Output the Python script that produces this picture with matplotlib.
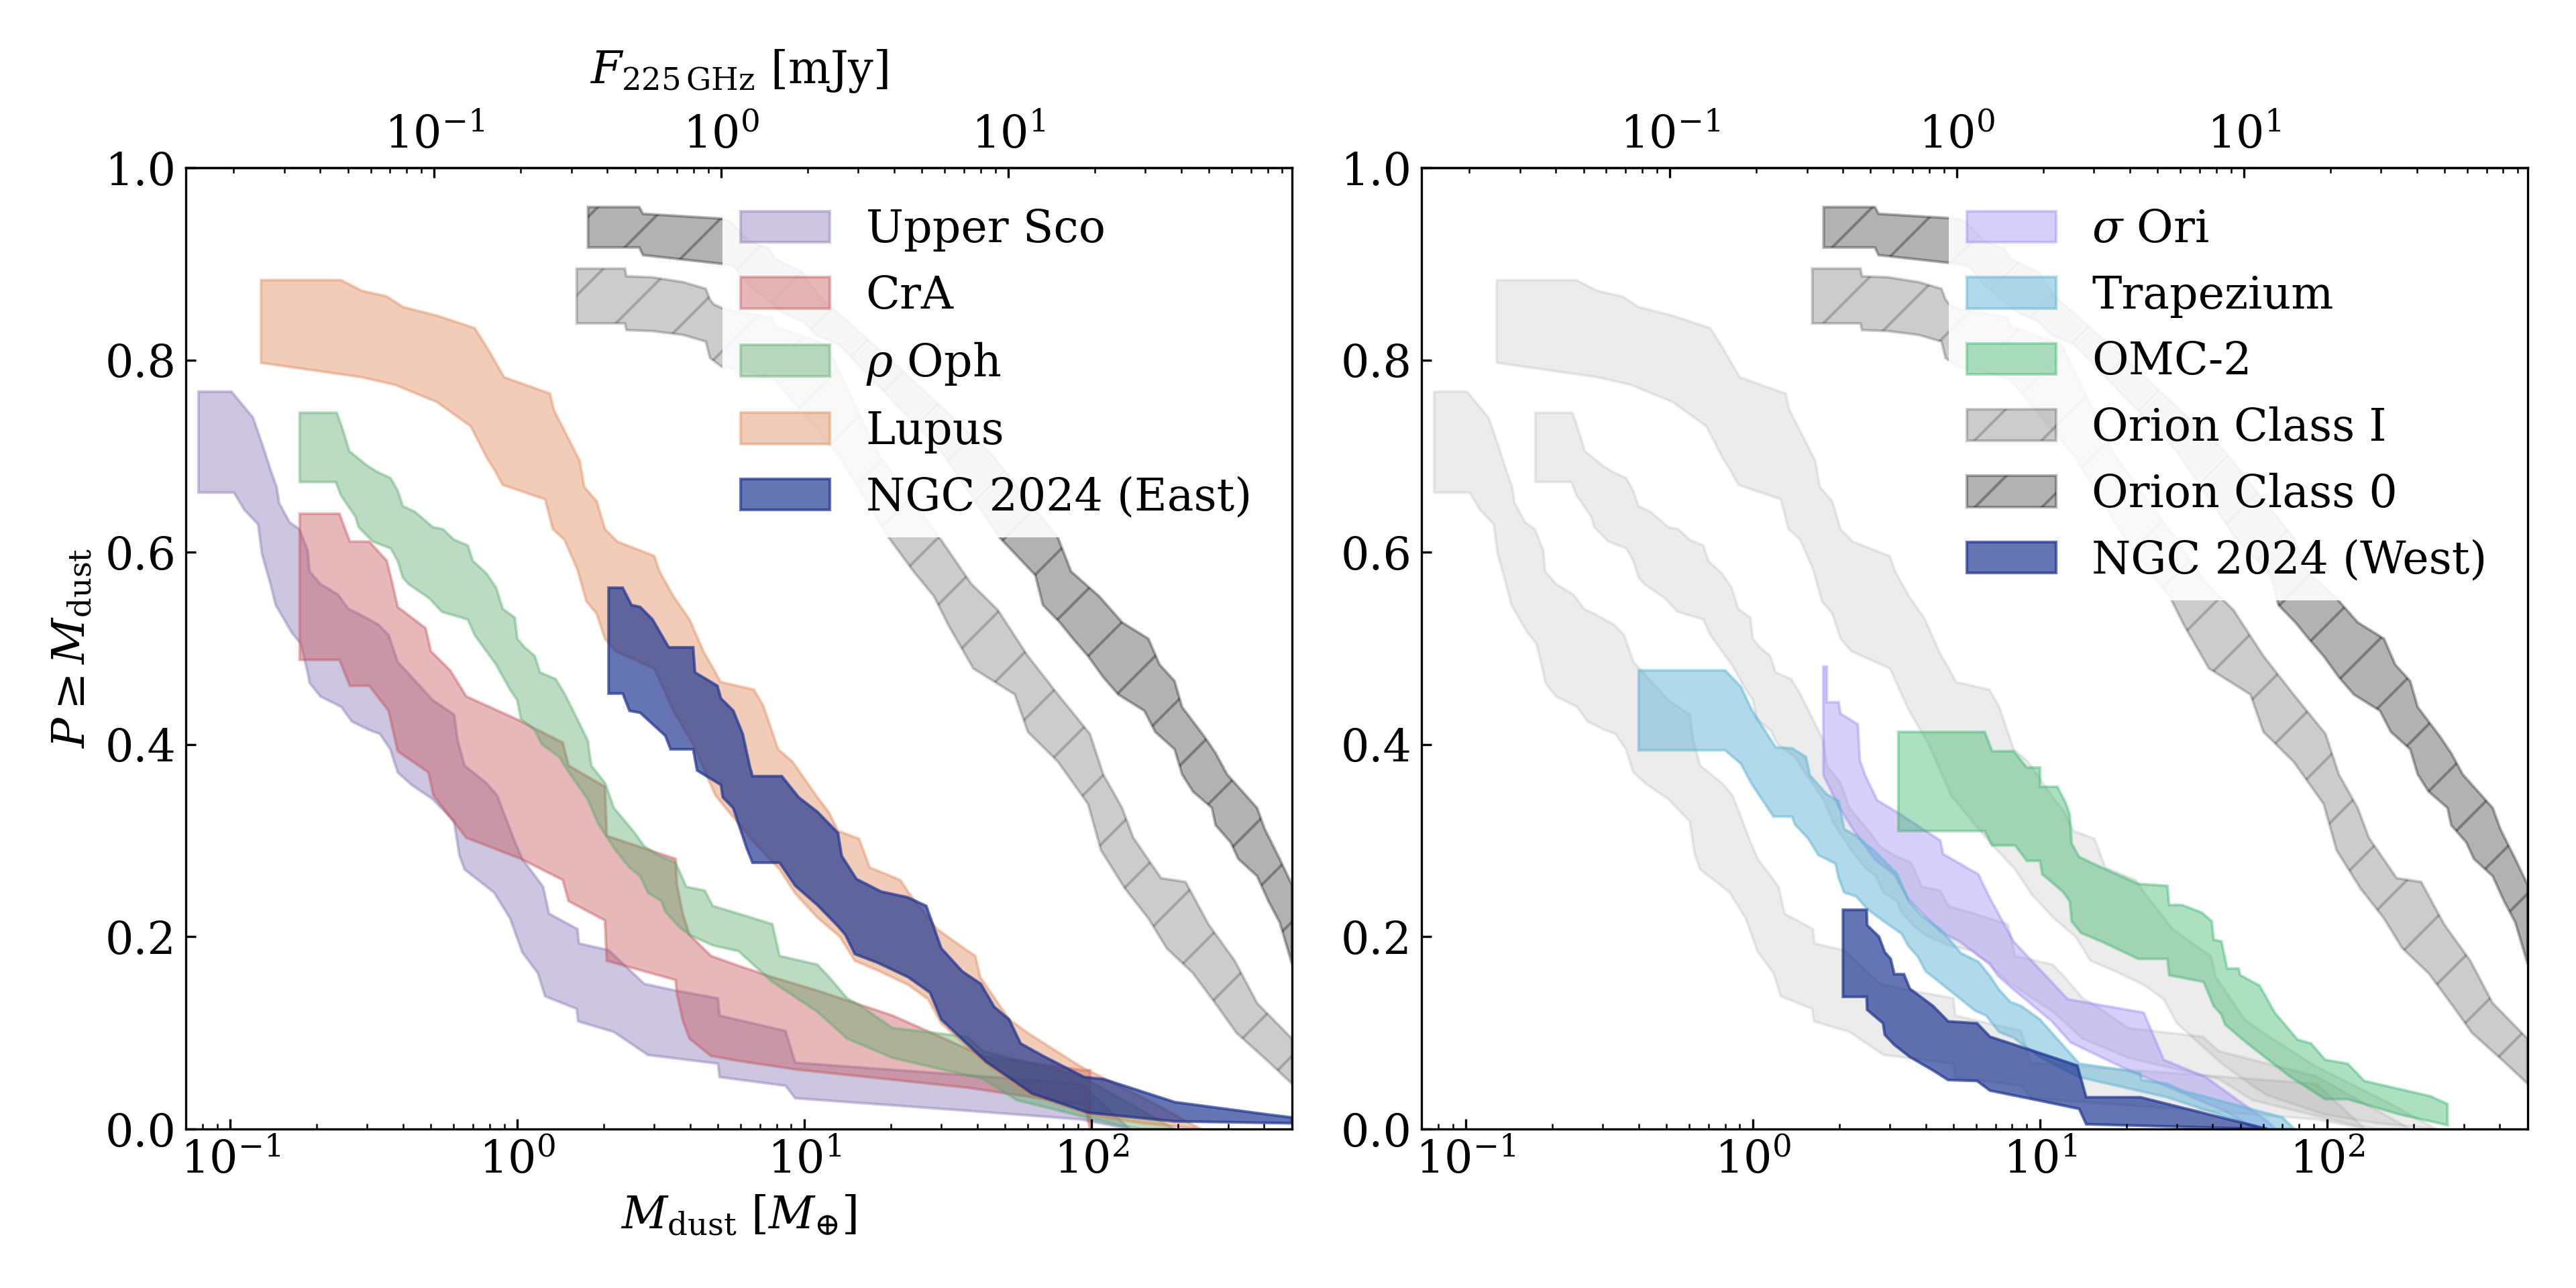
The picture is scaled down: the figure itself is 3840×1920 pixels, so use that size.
import numpy as np
import matplotlib
matplotlib.use('Agg')
import matplotlib.pyplot as plt
from matplotlib.ticker import LogLocator, NullFormatter

plt.rcParams.update({
    'font.family': 'serif',
    'font.serif': ['DejaVu Serif'],
    'mathtext.fontset': 'dejavuserif',
    'font.size': 16,
    'axes.linewidth': 0.8,
})

# ---------------- data (M_dust [M_earth], cumulative probability) ----------------
# Upper Sco
usco_hi_m = [0.0775, 0.101, 0.12, 0.13, 0.138, 0.145, 0.148, 0.161, 0.174, 0.186, 0.189, 0.206, 0.237, 0.258,
             0.280, 0.327, 0.356, 0.383, 0.508, 0.603, 0.62, 0.655, 0.78, 0.85, 0.98, 1.04, 1.23, 1.29, 1.62,
             1.64, 2.08, 2.77, 3.56, 5.0, 5.07, 8.6, 9.3, 37, 92, 136]
usco_hi_p = [0.767, 0.767, 0.74, 0.71, 0.686, 0.668, 0.651, 0.631, 0.624, 0.602, 0.580, 0.567, 0.556, 0.541,
             0.536, 0.525, 0.514, 0.486, 0.446, 0.431, 0.404, 0.378, 0.360, 0.347, 0.299, 0.281, 0.252, 0.224,
             0.208, 0.193, 0.186, 0.151, 0.144, 0.136, 0.118, 0.102, 0.069, 0.056, 0.047, 0.0]
usco_lo_m = [0.0775, 0.103, 0.112, 0.125, 0.129, 0.138, 0.144, 0.164, 0.176, 0.186, 0.189, 0.206, 0.244, 0.265,
             0.305, 0.332, 0.361, 0.383, 0.428, 0.508, 0.602, 0.628, 0.655, 0.83, 0.944, 1.04, 1.18, 1.25, 1.61,
             1.63, 2.17, 2.85, 5.0, 5.07, 8.6, 9.3, 37, 92, 136]
usco_lo_p = [0.662, 0.662, 0.644, 0.629, 0.598, 0.567, 0.545, 0.516, 0.505, 0.475, 0.464, 0.450, 0.439, 0.424,
             0.415, 0.411, 0.395, 0.371, 0.358, 0.343, 0.320, 0.285, 0.270, 0.246, 0.219, 0.184, 0.162, 0.138,
             0.125, 0.112, 0.101, 0.077, 0.068, 0.054, 0.045, 0.032, 0.019, 0.010, 0.0]

# CrA
cra_hi_m = [0.1745, 0.24, 0.261, 0.305, 0.351, 0.366, 0.383, 0.479, 0.50, 0.584, 0.664, 1.0, 1.18, 1.44, 1.51,
            2.02, 2.05, 3.56, 3.6, 3.77, 3.98, 4.73, 5.87, 7.74, 11.1, 20.3, 42, 94.5, 99]
cra_hi_p = [0.640, 0.640, 0.611, 0.611, 0.591, 0.569, 0.543, 0.521, 0.497, 0.477, 0.450, 0.426, 0.415, 0.402,
            0.378, 0.356, 0.305, 0.281, 0.254, 0.224, 0.202, 0.180, 0.170, 0.158, 0.144, 0.118, 0.076, 0.061, 0.061]
cra_lo_m = [0.1745, 0.24, 0.261, 0.305, 0.356, 0.383, 0.49, 0.51, 0.664, 1.03, 1.44, 1.51, 2.02, 2.05, 3.56, 3.6,
            3.77, 3.98, 4.73, 5.87, 9.3, 37, 94.5, 99]
cra_lo_p = [0.488, 0.488, 0.461, 0.461, 0.435, 0.393, 0.371, 0.347, 0.303, 0.281, 0.259, 0.237, 0.217, 0.175,
            0.155, 0.140, 0.113, 0.094, 0.076, 0.071, 0.062, 0.043, 0.025, 0.0]

# rho Oph
roph_hi_m = [0.1745, 0.235, 0.245, 0.26, 0.30, 0.323, 0.362, 0.383, 0.399, 0.44, 0.508, 0.55, 0.602, 0.672, 0.70,
             0.78, 0.844, 0.89, 0.98, 1.0, 1.06, 1.15, 1.2, 1.36, 1.46, 1.62, 1.76, 1.81, 2.02, 2.17, 2.58, 2.77,
             3.09, 3.56, 3.88, 4.5, 4.8, 5.9, 7.74, 8.2, 11.1, 12.2, 14.1, 15.9, 20.3, 37, 42, 91.6, 195]
roph_hi_p = [0.745, 0.745, 0.73, 0.705, 0.69, 0.684, 0.677, 0.664, 0.648, 0.642, 0.626, 0.624, 0.613, 0.607, 0.591,
             0.578, 0.563, 0.541, 0.532, 0.510, 0.501, 0.492, 0.475, 0.468, 0.453, 0.426, 0.404, 0.378, 0.360, 0.334,
             0.307, 0.294, 0.285, 0.277, 0.252, 0.248, 0.232, 0.224, 0.213, 0.180, 0.171, 0.158, 0.136, 0.127, 0.105,
             0.096, 0.081, 0.055, 0.0]
roph_lo_m = [0.1745, 0.233, 0.243, 0.273, 0.28, 0.314, 0.362, 0.383, 0.399, 0.417, 0.494, 0.546, 0.672, 0.71,
             0.763, 0.844, 0.944, 1.0, 1.03, 1.15, 1.22, 1.40, 1.53, 1.76, 1.91, 2.2, 2.46, 2.68, 2.85, 3.18, 3.28,
             3.67, 3.98, 4.8, 5.9, 7.74, 11.1, 14.1, 20.3, 42, 55, 124, 150]
roph_lo_p = [0.673, 0.673, 0.659, 0.637, 0.626, 0.611, 0.604, 0.591, 0.574, 0.567, 0.552, 0.538, 0.530, 0.514,
             0.501, 0.483, 0.457, 0.446, 0.426, 0.415, 0.400, 0.387, 0.369, 0.343, 0.318, 0.290, 0.272, 0.263, 0.246,
             0.237, 0.226, 0.210, 0.202, 0.191, 0.185, 0.153, 0.122, 0.094, 0.074, 0.052, 0.030, 0.004, 0.0]

# Lupus
lup_hi_m = [0.128, 0.243, 0.287, 0.351, 0.40, 0.526, 0.711, 0.787, 0.90, 1.30, 1.34, 1.65, 1.71, 1.89, 2.02, 2.23,
            3.0, 3.13, 3.5, 3.98, 4.48, 4.8, 5.1, 6.67, 7.2, 8.1, 9.1, 11.1, 12.2, 13.1, 15.5, 16.9, 21.6, 23.2, 29,
            36, 39.4, 41, 51.7, 60, 91.6, 167, 240]
lup_hi_p = [0.883, 0.883, 0.872, 0.866, 0.855, 0.846, 0.833, 0.812, 0.782, 0.765, 0.748, 0.695, 0.668, 0.653,
            0.624, 0.611, 0.596, 0.580, 0.554, 0.530, 0.495, 0.480, 0.465, 0.457, 0.440, 0.395, 0.382, 0.345, 0.329,
            0.310, 0.302, 0.272, 0.259, 0.245, 0.208, 0.188, 0.180, 0.158, 0.114, 0.100, 0.065, 0.026, 0.0]
lup_lo_m = [0.128, 0.287, 0.376, 0.526, 0.688, 0.787, 0.832, 0.89, 1.25, 1.33, 1.46, 1.62, 1.74, 1.89, 2.02, 2.2,
            3.0, 3.5, 4.1, 4.9, 6.6, 8.2, 9.3, 11.1, 13.3, 15, 18, 23, 27, 30, 43, 55, 62, 98, 150, 240]
lup_lo_p = [0.797, 0.782, 0.774, 0.756, 0.731, 0.697, 0.686, 0.670, 0.655, 0.624, 0.613, 0.582, 0.549, 0.536,
            0.510, 0.497, 0.479, 0.435, 0.400, 0.347, 0.300, 0.270, 0.245, 0.220, 0.200, 0.175, 0.165, 0.150, 0.135,
            0.110, 0.068, 0.045, 0.035, 0.015, 0.006, 0.0]

# NGC 2024 East
ngce_hi_m = [2.08, 2.33, 2.5, 2.68, 2.96, 3.37, 4.1, 4.16, 4.98, 5.12, 5.66, 6.1, 6.45, 6.6, 8.35, 9.56, 11.1, 13.1,
             13.5, 15.2, 18.5, 22.9, 26.6, 30, 35.5, 41.2, 45.9, 51.7, 56.7, 67.9, 94.5, 110, 195, 414, 500]
ngce_hi_p = [0.563, 0.563, 0.545, 0.543, 0.530, 0.501, 0.501, 0.475, 0.461, 0.448, 0.435, 0.411, 0.378, 0.367,
             0.367, 0.345, 0.330, 0.308, 0.284, 0.260, 0.247, 0.241, 0.232, 0.188, 0.164, 0.151, 0.127, 0.114, 0.089,
             0.076, 0.054, 0.052, 0.028, 0.015, 0.012]
ngce_lo_m = [2.08, 2.33, 2.46, 2.68, 3.28, 3.42, 4.1, 4.23, 5.12, 5.2, 5.65, 6.3, 6.6, 8.2, 9.3, 11.1, 13.1, 13.9,
             15, 18, 23, 27.4, 30, 43, 55, 62, 97.7, 195, 500]
ngce_lo_p = [0.453, 0.453, 0.435, 0.433, 0.409, 0.395, 0.395, 0.373, 0.358, 0.345, 0.334, 0.292, 0.277, 0.277,
             0.253, 0.233, 0.211, 0.202, 0.182, 0.173, 0.158, 0.142, 0.114, 0.070, 0.048, 0.037, 0.017, 0.008, 0.006]

# Orion Class I
oc1_hi_m = [1.61, 2.37, 2.40, 2.95, 3.78, 4.54, 4.69, 4.83, 5.25, 7.74, 7.9, 11.9, 18.3, 29.6, 38.2, 47.2, 60.1,
            76.5, 98.9, 110, 128, 140, 175, 213, 256, 316, 378, 500]
oc1_hi_p = [0.895, 0.895, 0.887, 0.886, 0.881, 0.874, 0.863, 0.858, 0.853, 0.844, 0.835, 0.816, 0.70, 0.615,
            0.567, 0.540, 0.492, 0.452, 0.411, 0.369, 0.334, 0.303, 0.261, 0.257, 0.213, 0.175, 0.131, 0.094]
oc1_lo_m = [1.61, 2.37, 2.40, 2.95, 3.78, 4.54, 4.69, 5.15, 6.44, 7.9, 13.2, 19.7, 24.0, 28.3, 31.9, 38.8, 54.1,
            60.1, 76.5, 97.4, 108, 131, 158, 183, 226, 276, 320, 414, 500]
oc1_lo_p = [0.838, 0.838, 0.831, 0.830, 0.826, 0.819, 0.802, 0.793, 0.788, 0.779, 0.70, 0.615, 0.580, 0.554,
            0.523, 0.479, 0.452, 0.413, 0.382, 0.338, 0.290, 0.250, 0.219, 0.188, 0.162, 0.127, 0.100, 0.070, 0.047]

# Orion Class 0
oc0_hi_m = [1.764, 2.66, 2.74, 5.14, 5.5, 6.45, 7.5, 7.9, 9.9, 10.6, 11.2, 20, 44, 76.5, 85, 106.6, 128, 158, 173,
            195, 207, 248, 271, 297, 378, 402, 453, 500]
oc0_hi_p = [0.959, 0.959, 0.952, 0.947, 0.944, 0.923, 0.916, 0.905, 0.891, 0.877, 0.867, 0.80, 0.705, 0.615,
            0.580, 0.554, 0.527, 0.510, 0.483, 0.466, 0.439, 0.408, 0.391, 0.369, 0.334, 0.312, 0.281, 0.254]
oc0_lo_m = [1.764, 2.66, 2.74, 5.14, 5.65, 6.45, 7.1, 8.4, 9.9, 11.0, 13.2, 30, 48, 63.8, 67.8, 77.6, 86.3, 97.3,
            110, 124, 153, 167, 195, 207, 226, 263, 271, 306, 325, 378, 414, 453, 500]
oc0_lo_p = [0.917, 0.917, 0.909, 0.900, 0.898, 0.877, 0.867, 0.849, 0.840, 0.826, 0.816, 0.705, 0.615, 0.576,
            0.545, 0.527, 0.510, 0.492, 0.470, 0.452, 0.435, 0.413, 0.395, 0.369, 0.351, 0.334, 0.316, 0.298,
            0.281, 0.263, 0.237, 0.215, 0.172]

# sigma Ori
sori_hi_m = [1.76, 1.81, 1.81, 1.99, 2.02, 2.32, 2.36, 2.47, 2.71, 3.2, 4.5, 4.6, 6.1, 6.7, 8.1, 9.7, 12.5, 23, 27,
             37.8, 62, 66]
sori_hi_p = [0.481, 0.481, 0.444, 0.444, 0.432, 0.421, 0.383, 0.367, 0.342, 0.329, 0.300, 0.286, 0.265, 0.240,
             0.195, 0.170, 0.135, 0.121, 0.072, 0.054, 0.008, 0.0]
sori_lo_m = [1.76, 1.85, 2.0, 2.3, 2.67, 3.1, 3.46, 4.5, 5.26, 6.1, 6.7, 7.1, 8.1, 11, 12.8, 20.4, 44, 56]
sori_lo_p = [0.368, 0.355, 0.334, 0.306, 0.280, 0.265, 0.240, 0.205, 0.195, 0.180, 0.172, 0.160, 0.145, 0.112,
             0.090, 0.061, 0.019, 0.0]

# Trapezium
trap_hi_m = [0.40, 0.80, 0.908, 0.99, 1.2, 1.37, 1.53, 1.58, 1.81, 1.99, 2.08, 2.29, 2.63, 3.17, 3.5, 3.86, 4.5,
             5.3, 6.1, 6.7, 7.2, 7.9, 8.6, 10.0, 13.7, 19.8, 22.4, 22.6, 27.8, 31.3, 70, 77]
trap_hi_p = [0.477, 0.477, 0.460, 0.436, 0.397, 0.396, 0.387, 0.368, 0.348, 0.341, 0.312, 0.305, 0.290, 0.266,
             0.237, 0.222, 0.208, 0.183, 0.174, 0.159, 0.145, 0.132, 0.128, 0.114, 0.068, 0.061, 0.058, 0.051, 0.047,
             0.040, 0.012, 0.0]
trap_lo_m = [0.40, 0.80, 0.908, 0.99, 1.18, 1.37, 1.40, 1.56, 1.69, 1.94, 1.99, 2.08, 2.29, 2.5, 2.83, 3.3, 3.47,
             3.76, 4.0, 4.5, 5.3, 5.95, 6.5, 7.2, 8.1, 8.6, 10.0, 13.7, 27.8, 60]
trap_lo_p = [0.394, 0.394, 0.380, 0.359, 0.325, 0.325, 0.317, 0.302, 0.285, 0.276, 0.261, 0.246, 0.242, 0.229,
             0.217, 0.203, 0.191, 0.179, 0.164, 0.152, 0.135, 0.123, 0.118, 0.101, 0.095, 0.089, 0.075, 0.054, 0.033,
             0.0]

# OMC-2
omc_hi_m = [3.21, 6.42, 6.82, 8.1, 9.0, 10.0, 10.0, 11.5, 12.3, 12.7, 12.9, 13.7, 16.4, 22.0, 27.8, 28.2, 31.3,
            36.7, 39.7, 40.3, 42.9, 44.9, 49.2, 49.9, 58.3, 65.8, 79, 88, 98.6, 118, 135, 230, 263, 263]
omc_hi_p = [0.413, 0.413, 0.393, 0.393, 0.376, 0.376, 0.356, 0.356, 0.339, 0.327, 0.297, 0.283, 0.272, 0.255,
            0.253, 0.233, 0.233, 0.225, 0.216, 0.197, 0.195, 0.167, 0.167, 0.160, 0.149, 0.121, 0.093, 0.089, 0.072,
            0.068, 0.050, 0.034, 0.026, 0.004]
omc_lo_m = [3.21, 6.42, 6.82, 8.2, 9.0, 10.0, 10.2, 12.0, 12.7, 12.9, 13.9, 16.4, 22, 27.8, 28.2, 37.2, 40.3,
            42.9, 44.1, 49.9, 58.3, 74.8, 98.6, 118, 180, 263]
omc_lo_p = [0.310, 0.310, 0.295, 0.295, 0.279, 0.279, 0.265, 0.247, 0.237, 0.216, 0.204, 0.195, 0.177, 0.177,
            0.160, 0.153, 0.128, 0.119, 0.109, 0.095, 0.079, 0.054, 0.031, 0.031, 0.015, 0.004]

# NGC 2024 West
ngcw_hi_m = [2.06, 2.49, 2.5, 2.75, 2.88, 3.02, 3.11, 3.36, 3.52, 4.24, 4.79, 6.04, 6.7, 10.0, 13.5, 14.5, 22.4, 62]
ngcw_hi_p = [0.228, 0.228, 0.212, 0.200, 0.184, 0.177, 0.161, 0.161, 0.146, 0.128, 0.112, 0.110, 0.096, 0.079,
             0.066, 0.033, 0.033, 0.0]
ngcw_lo_m = [2.06, 2.49, 2.5, 2.84, 2.88, 3.11, 3.52, 4.24, 4.79, 6.04, 6.7, 10.0, 13.7, 14.5, 60]
ngcw_lo_p = [0.1375, 0.1375, 0.124, 0.110, 0.098, 0.0875, 0.075, 0.061, 0.051, 0.050, 0.040, 0.0295, 0.021, 0.005,
             0.0]

xlim = (0.07, 500)
mass_per_mjy = 5.14
flux_ticks = [0.1, 1.0, 10.0]

# ---------------- styles ----------------
c_usco, c_cra, c_roph, c_lup = '#8172B3', '#C44E52', '#55A868', '#DD8452'
c_ngc = '#1c328f'
c_sori, c_trap, c_omc = '#8d79f1', '#62b5d5', '#32b164'


def band(ax, hm, hp, lm, lp, **kw):
    x = np.concatenate([np.asarray(hm, float), np.asarray(lm, float)[::-1]])
    y = np.concatenate([np.asarray(hp, float), np.asarray(lp, float)[::-1]])
    return ax.fill(x, y, **kw)[0]


fig = plt.figure(figsize=(12.8, 6.4), dpi=300)
ax1 = fig.add_axes([0.07214, 0.12344, 0.4294, 0.7464])
ax2 = fig.add_axes([0.5518, 0.12344, 0.4294, 0.7464])

# left panel
band(ax1, oc1_hi_m, oc1_hi_p, oc1_lo_m, oc1_lo_p, color='k', alpha=0.2, hatch='/', lw=1)
band(ax1, oc0_hi_m, oc0_hi_p, oc0_lo_m, oc0_lo_p, color='k', alpha=0.3, hatch='/', lw=1)
h_usco = band(ax1, usco_hi_m, usco_hi_p, usco_lo_m, usco_lo_p, color=c_usco, alpha=0.4, lw=1, label='Upper Sco')
h_cra = band(ax1, cra_hi_m, cra_hi_p, cra_lo_m, cra_lo_p, color=c_cra, alpha=0.4, lw=1, label='CrA')
h_roph = band(ax1, roph_hi_m, roph_hi_p, roph_lo_m, roph_lo_p, color=c_roph, alpha=0.4, lw=1, label=r'$\rho$ Oph')
h_lup = band(ax1, lup_hi_m, lup_hi_p, lup_lo_m, lup_lo_p, color=c_lup, alpha=0.4, lw=1, label='Lupus')
h_ngce = band(ax1, ngce_hi_m, ngce_hi_p, ngce_lo_m, ngce_lo_p, color=c_ngc, alpha=0.68, lw=1,
              label='NGC 2024 (East)')
ax1.legend(handles=[h_usco, h_cra, h_roph, h_lup, h_ngce], loc='upper right', framealpha=0.9,
           edgecolor='none', fontsize=16)

# right panel
for hm, hp, lm, lp in [(usco_hi_m, usco_hi_p, usco_lo_m, usco_lo_p),
                       (roph_hi_m, roph_hi_p, roph_lo_m, roph_lo_p),
                       (lup_hi_m, lup_hi_p, lup_lo_m, lup_lo_p)]:
    band(ax2, hm, hp, lm, lp, color='grey', alpha=0.15, lw=1)
h_oc1 = band(ax2, oc1_hi_m, oc1_hi_p, oc1_lo_m, oc1_lo_p, color='k', alpha=0.2, hatch='/', lw=1,
             label='Orion Class I')
h_oc0 = band(ax2, oc0_hi_m, oc0_hi_p, oc0_lo_m, oc0_lo_p, color='k', alpha=0.3, hatch='/', lw=1,
             label='Orion Class 0')
h_sori = band(ax2, sori_hi_m, sori_hi_p, sori_lo_m, sori_lo_p, color=c_sori, alpha=0.35, lw=1, label=r'$\sigma$ Ori')
h_trap = band(ax2, trap_hi_m, trap_hi_p, trap_lo_m, trap_lo_p, color=c_trap, alpha=0.5, lw=1, label='Trapezium')
h_omc = band(ax2, omc_hi_m, omc_hi_p, omc_lo_m, omc_lo_p, color=c_omc, alpha=0.4, lw=1, label='OMC-2')
h_ngcw = band(ax2, ngcw_hi_m, ngcw_hi_p, ngcw_lo_m, ngcw_lo_p, color=c_ngc, alpha=0.68, lw=1,
              label='NGC 2024 (West)')
ax2.legend(handles=[h_sori, h_trap, h_omc, h_oc1, h_oc0, h_ngcw], loc='upper right', framealpha=0.9,
           edgecolor='none', fontsize=16)

for ax in (ax1, ax2):
    ax.set_xscale('log')
    ax.set_xlim(*xlim)
    ax.set_ylim(0, 1)
    ax.set_yticks([0.0, 0.2, 0.4, 0.6, 0.8, 1.0])
    ax.tick_params(which='both', direction='in', top=False, right=False)
    sec = ax.secondary_xaxis('top', functions=(lambda m: m / mass_per_mjy, lambda f: f * mass_per_mjy))
    sec.set_xticks(flux_ticks)
    sec.xaxis.set_minor_locator(LogLocator(base=10, subs=np.arange(2, 10)))
    sec.xaxis.set_minor_formatter(NullFormatter())
    sec.tick_params(which='both', direction='in')
    if ax is ax1:
        sec.set_xlabel(r'$F_{225\,\mathrm{GHz}}$ [mJy]', labelpad=11)

ax1.set_xlabel(r'$M_{\rm dust}$ [$M_{\oplus}$]')
ax1.set_ylabel(r'$P \geq M_{\rm dust}$')

fig.savefig('out.png', dpi=300)
